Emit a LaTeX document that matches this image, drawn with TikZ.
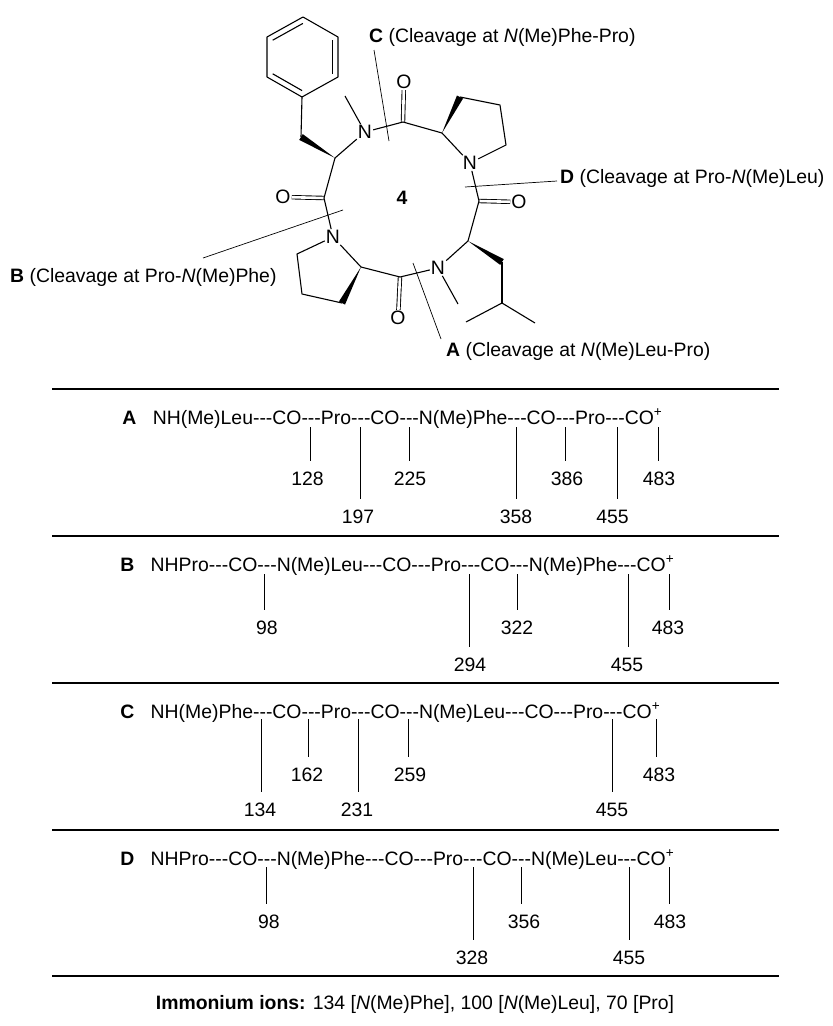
\documentclass[tikz,border=0pt]{standalone}
\usepackage{fontspec}
\setmainfont{Liberation Sans}
\usetikzlibrary{calc,positioning}

\newcommand{\dsh}{-{}-{}-}
\newcommand{\wedgebond}[2]{\fill (#1) -- ($(#2)!3.4pt!90:(#1)$) -- ($(#2)!3.4pt!-90:(#1)$) -- cycle;}

\tikzset{
  txt/.style={font=\fontsize{19.4}{22}\selectfont,inner sep=0pt},
  atom/.style={txt,inner sep=1pt},
  bond/.style={line width=1.1pt},
  dbl/.style={line width=0.9pt,double,double distance=2.6pt},
  cut/.style={line width=0.7pt},
  tick/.style={line width=0.8pt,shorten >=11pt},
  rule/.style={line width=2.4pt},
  seq/.style={txt,anchor=base west},
  rowlab/.style={txt,font=\fontsize{19.4}{22}\selectfont\bfseries}
}

\begin{document}
\begin{tikzpicture}[x=1pt,y=-1pt]
  \useasboundingbox (0,0) rectangle (833,1026);

  % phenyl ring
  \coordinate (ph_1) at (303,17);
  \coordinate (ph_2) at (338,37);
  \coordinate (ph_3) at (338,77);
  \coordinate (ph_4) at (302,97);
  \coordinate (ph_5) at (267,77);
  \coordinate (ph_6) at (267,37);
  \coordinate (ph_c) at (302.5,57);
  \draw[bond,line join=round] (ph_1) -- (ph_2) -- (ph_3) -- (ph_4) -- (ph_5) -- (ph_6) -- cycle;
  \draw[bond] ($(ph_6)!0.16!(ph_c)$) -- ($(ph_1)!0.16!(ph_c)$);
  \draw[bond] ($(ph_2)!0.16!(ph_c)$) -- ($(ph_3)!0.16!(ph_c)$);
  \draw[bond] ($(ph_4)!0.16!(ph_c)$) -- ($(ph_5)!0.16!(ph_c)$);

  % ring atoms
  \node[atom] (n_1) at (365,132) {N};
  \node[atom] (n_2) at (470,163) {N};
  \node[atom] (n_3) at (438,268) {N};
  \node[atom] (n_4) at (333,237) {N};
  \node[atom] (o_1) at (404,82) {O};
  \node[atom] (o_2) at (519,202) {O};
  \node[atom] (o_3) at (398,318) {O};
  \node[atom] (o_4) at (283,197) {O};
  \coordinate (c_1) at (403,122);
  \coordinate (c_2) at (442,133);
  \coordinate (c_3) at (479,201);
  \coordinate (c_4) at (468,241);
  \coordinate (c_5) at (400,277);
  \coordinate (c_6) at (361,267);
  \coordinate (c_7) at (324,198);
  \coordinate (c_8) at (335,158);
  % side chains
  \coordinate (ch_1) at (301,137);
  \coordinate (me_1) at (345,96);
  \coordinate (pr_1) at (460,97);
  \coordinate (pr_2) at (500,105);
  \coordinate (pr_3) at (506,145);
  \coordinate (le_1) at (502,262);
  \coordinate (le_2) at (502,303);
  \coordinate (le_3) at (466,322);
  \coordinate (le_4) at (535,323);
  \coordinate (me_2) at (458,304);
  \coordinate (pr_4) at (342,303);
  \coordinate (pr_5) at (302,294);
  \coordinate (pr_6) at (297,254);

  \draw[dbl] (o_1) -- (c_1);
  \draw[dbl] (o_2) -- (c_3);
  \draw[dbl] (o_3) -- (c_5);
  \draw[dbl] (o_4) -- (c_7);
  \draw[bond] (c_8) -- (n_1);
  \draw[bond] (n_1) -- (c_1);
  \draw[bond] (c_1) -- (c_2);
  \draw[bond] (c_2) -- (n_2);
  \draw[bond] (n_2) -- (c_3);
  \draw[bond] (c_3) -- (c_4);
  \draw[bond] (c_4) -- (n_3);
  \draw[bond] (n_3) -- (c_5);
  \draw[bond] (c_5) -- (c_6);
  \draw[bond] (c_6) -- (n_4);
  \draw[bond] (n_4) -- (c_7);
  \draw[bond] (c_7) -- (c_8);
  \draw[bond] (ph_4) -- (ch_1);
  \draw[bond] (n_1) -- (me_1);
  \draw[bond,line join=round] (pr_1) -- (pr_2) -- (pr_3) -- (n_2);
  \draw[bond] (le_1) -- (le_2);
  \draw[bond] (le_2) -- (le_3);
  \draw[bond] (le_2) -- (le_4);
  \draw[bond] (n_3) -- (me_2);
  \draw[bond,line join=round] (pr_4) -- (pr_5) -- (pr_6) -- (n_4);
  \wedgebond{c_8}{ch_1}
  \wedgebond{c_2}{pr_1}
  \wedgebond{c_4}{le_1}
  \wedgebond{c_6}{pr_4}

  \node[rowlab] (cpd_4) at (402,198) {4};

  % cleavage labels
  \node[seq] (lab_c) at (369,42) {\textbf{C} (Cleavage at \textit{N}(Me)Phe-Pro)};
  \node[seq] (lab_d) at (560,183) {\textbf{D} (Cleavage at Pro-\textit{N}(Me)Leu)};
  \node[seq] (lab_b) at (10,282) {\textbf{B} (Cleavage at Pro-\textit{N}(Me)Phe)};
  \node[seq] (lab_a) at (446,356) {\textbf{A} (Cleavage at \textit{N}(Me)Leu-Pro)};
  \coordinate (cut_c1) at (374,50);
  \coordinate (cut_c2) at (389,141);
  \coordinate (cut_d1) at (557,181);
  \coordinate (cut_d2) at (465,187);
  \coordinate (cut_b1) at (203,258);
  \coordinate (cut_b2) at (343,210);
  \coordinate (cut_a1) at (441,339);
  \coordinate (cut_a2) at (413,263);
  \draw[cut] (cut_c1) -- (cut_c2);
  \draw[cut] (cut_d1) -- (cut_d2);
  \draw[cut] (cut_b1) -- (cut_b2);
  \draw[cut] (cut_a1) -- (cut_a2);

  \foreach \y in {389,536,683,830,976}
    \draw[rule] (52,\y) -- (779,\y);

  % fragment rows
  \node[seq] (seq_a) at (152.6,424) {NH(Me)Leu\dsh CO\dsh Pro\dsh CO\dsh N(Me)Phe\dsh CO\dsh Pro\dsh CO\textsuperscript{+}};
  \node[rowlab,base left=16pt of seq_a.base west] (row_a) {A};
  \foreach \num/\xt/\xl/\yl in {128/310/307.5/479,197/360/358/517,225/409/410/479,358/516/516/517,386/565.6/567/479,455/617/612.6/517,483/658/659/479}{
    \node[txt] (ion_a\num) at (\xl,\yl) {\num};
    \coordinate (top_a\num) at (\xt,427);
    \draw[tick] (top_a\num) -- (top_a\num |- ion_a\num.north);
  }

  \node[seq] (seq_b) at (150.5,571) {NHPro\dsh CO\dsh N(Me)Leu\dsh CO\dsh Pro\dsh CO\dsh N(Me)Phe\dsh CO\textsuperscript{+}};
  \node[rowlab,base left=16pt of seq_b.base west] (row_b) {B};
  \foreach \num/\xt/\xl/\yl in {98/264.6/267/628,294/469/470/665,322/517/517/628,455/628/627/665,483/669/668/628}{
    \node[txt] (ion_b\num) at (\xl,\yl) {\num};
    \coordinate (top_b\num) at (\xt,574);
    \draw[tick] (top_b\num) -- (top_b\num |- ion_b\num.north);
  }

  \node[seq] (seq_c) at (150.5,718) {NH(Me)Phe\dsh CO\dsh Pro\dsh CO\dsh N(Me)Leu\dsh CO\dsh Pro\dsh CO\textsuperscript{+}};
  \node[rowlab,base left=16pt of seq_c.base west] (row_c) {C};
  \foreach \num/\xt/\xl/\yl in {134/261/260/810,162/308/307/775,231/358/357/810,259/408/410/775,455/612/612/810,483/656/659/775}{
    \node[txt] (ion_c\num) at (\xl,\yl) {\num};
    \coordinate (top_c\num) at (\xt,719);
    \draw[tick] (top_c\num) -- (top_c\num |- ion_c\num.north);
  }

  \node[seq] (seq_d) at (150.5,865) {NHPro\dsh CO\dsh N(Me)Phe\dsh CO\dsh Pro\dsh CO\dsh N(Me)Leu\dsh CO\textsuperscript{+}};
  \node[rowlab,base left=16pt of seq_d.base west] (row_d) {D};
  \foreach \num/\xt/\xl/\yl in {98/266/269/922,328/473/472/958,356/521/524/922,455/629/629/958,483/669/670/922}{
    \node[txt] (ion_d\num) at (\xl,\yl) {\num};
    \coordinate (top_d\num) at (\xt,867);
    \draw[tick] (top_d\num) -- (top_d\num |- ion_d\num.north);
  }

  \node[txt] (ions) at (415,1004) {\textbf{Immonium ions:} 134 [\textit{N}(Me)Phe], 100 [\textit{N}(Me)Leu], 70 [Pro]};
\end{tikzpicture}
\end{document}
